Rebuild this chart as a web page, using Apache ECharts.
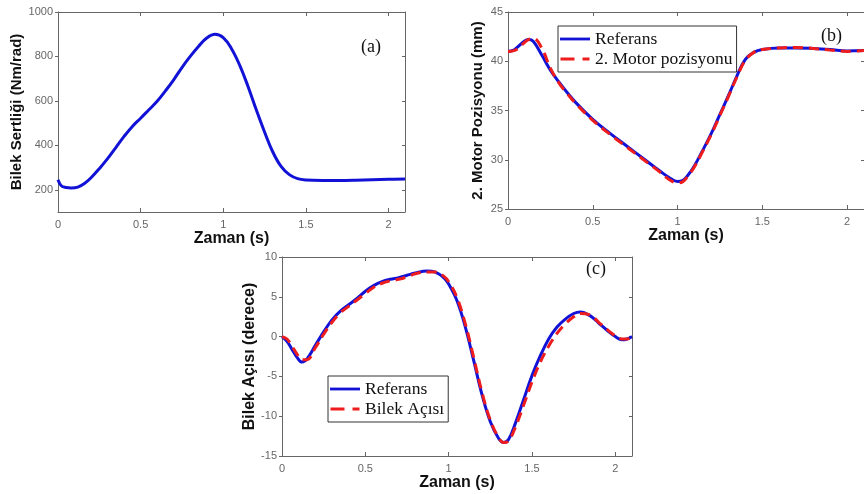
<!DOCTYPE html>
<html>
<head>
  <meta charset="utf-8">
</head>
<body style="margin: 0; background: #fff">
  <div id="container" style="width: 864px; height: 494px"></div>
  <script src="https://cdn.jsdelivr.net/npm/echarts@6/dist/echarts.min.js"></script>
  <script>
    // (a) wrist stiffness
    var tA = [0, 0.02, 0.05, 0.08, 0.12, 0.16, 0.2, 0.25, 0.3, 0.35, 0.4, 0.45, 0.5, 0.55, 0.6, 0.65, 0.7, 0.75, 0.8, 0.85, 0.9, 0.95, 1.0, 1.05, 1.1, 1.15, 1.2, 1.25, 1.3, 1.35, 1.4, 1.45, 1.5, 1.6, 1.7, 1.8, 1.9, 2.0, 2.1];
    var bilekSertligi = [245, 218, 210, 208, 212, 228, 254, 295, 340, 390, 440, 485, 522, 560, 598, 645, 695, 750, 800, 845, 883, 900, 885, 835, 760, 665, 560, 460, 370, 305, 268, 250, 244, 242, 242, 243, 245, 247, 248];

    // (b) motor 2 position
    var tB = [0, 0.03, 0.06, 0.09, 0.12, 0.15, 0.2, 0.25, 0.3, 0.35, 0.4, 0.5, 0.6, 0.7, 0.8, 0.9, 0.95, 1.0, 1.03, 1.06, 1.1, 1.15, 1.2, 1.25, 1.3, 1.35, 1.4, 1.45, 1.5, 1.6, 1.7, 1.8, 1.9, 2.0, 2.1];
    var referansB = [41.0, 41.1, 41.5, 41.95, 42.2, 42.0, 40.6, 39.1, 37.9, 36.8, 35.8, 34.1, 32.7, 31.4, 30.1, 28.8, 28.2, 27.8, 27.9, 28.4, 29.4, 31.0, 32.7, 34.6, 36.5, 38.5, 40.2, 40.9, 41.2, 41.35, 41.35, 41.3, 41.2, 41.05, 41.1];
    var motorPozisyonu = [41.0, 41.05, 41.3, 41.8, 42.2, 42.3, 41.3, 39.3, 37.8, 36.7, 35.7, 34.0, 32.6, 31.3, 30.0, 28.7, 28.0, 27.65, 27.75, 28.3, 29.3, 30.9, 32.6, 34.5, 36.4, 38.4, 40.1, 40.9, 41.2, 41.35, 41.4, 41.3, 41.15, 41.0, 41.1];

    // (c) wrist angle
    var tC = [0, 0.03, 0.06, 0.09, 0.12, 0.15, 0.2, 0.25, 0.3, 0.35, 0.4, 0.45, 0.5, 0.55, 0.6, 0.65, 0.7, 0.75, 0.8, 0.87, 0.92, 0.97, 1.0, 1.05, 1.1, 1.15, 1.2, 1.25, 1.3, 1.33, 1.36, 1.4, 1.45, 1.5, 1.55, 1.6, 1.65, 1.7, 1.75, 1.79, 1.85, 1.9, 1.95, 2.0, 2.04, 2.07, 2.1];
    var referansC = [0, -0.6, -1.6, -2.6, -3.2, -2.8, -1.1, 0.6, 2.1, 3.2, 4.0, 4.8, 5.7, 6.4, 6.9, 7.2, 7.4, 7.7, 8.0, 8.25, 8.1, 7.4, 6.6, 4.5, 1.2, -3.0, -7.3, -10.7, -12.8, -13.3, -12.9, -10.9, -7.9, -4.9, -2.4, -0.3, 1.2, 2.2, 2.9, 3.1, 2.6, 1.7, 0.8, 0.0, -0.4, -0.3, 0.0];
    var bilekAcisi = [0, -0.3, -1.2, -2.2, -2.9, -2.9, -1.4, 0.3, 1.8, 3.0, 3.8, 4.6, 5.4, 6.2, 6.7, 7.0, 7.2, 7.5, 7.9, 8.1, 8.1, 7.6, 6.9, 4.9, 1.6, -2.6, -7.0, -10.5, -12.7, -13.3, -13.1, -11.4, -8.6, -5.7, -3.2, -1.2, 0.4, 1.6, 2.5, 2.9, 2.7, 1.8, 0.9, 0.1, -0.3, -0.3, 0.0];

    var yTicksA = [200, 400, 600, 800, 1000];

    function pairs(xs, ys) {
      return xs.map(function (x, i) { return [x, ys[i]]; });
    }

    var axisColor = '#666';
    var labelStyle = { fontFamily: 'Liberation Sans', fontSize: 11, color: '#666', formatter: function (v) { return String(v); } };
    var nameStyle = { fontFamily: 'Liberation Sans', fontWeight: 'bold', fontSize: 16, color: '#111' };

    function xAxes(gi) {
      var base = {
        type: 'value', gridIndex: gi, min: 0, max: 2.1, interval: 0.5,
        axisLine: { onZero: false, lineStyle: { color: axisColor } },
        axisTick: { inside: true, length: 4, lineStyle: { color: axisColor } },
        splitLine: { show: false }
      };
      return [Object.assign({}, base, {
        position: 'bottom',
        name: 'Zaman (s)', nameLocation: 'middle', nameGap: 17, nameTextStyle: nameStyle,
        axisLabel: Object.assign({ margin: 7, showMaxLabel: false }, labelStyle)
      }), Object.assign({}, base, {
        position: 'top', axisLabel: { show: false }
      })];
    }

    function yAxes(gi, min, max, interval, name, gap, size) {
      var base = {
        type: 'value', gridIndex: gi, min: min, max: max, interval: interval,
        axisLine: { show: true, onZero: false, lineStyle: { color: axisColor } },
        axisTick: { show: true, length: 3, lineStyle: { color: axisColor } },
        splitLine: { show: false }
      };
      if (gi === 0) {
        // ticks only at 200..1000 while the axis starts at 100
        base.axisTick = Object.assign({}, base.axisTick, { customValues: yTicksA });
      }
      var label = Object.assign({ margin: 5 }, labelStyle);
      if (gi === 0) label.customValues = yTicksA;
      return [Object.assign({}, base, {
        position: 'left',
        name: name, nameLocation: 'middle', nameGap: gap,
        nameTextStyle: Object.assign({}, nameStyle, { fontSize: size }),
        axisTick: Object.assign({}, base.axisTick, { inside: false }),
        axisLabel: label
      }), Object.assign({}, base, {
        position: 'right',
        axisTick: Object.assign({}, base.axisTick, { inside: true }),
        axisLabel: { show: false }
      })];
    }

    var blue = { color: '#1212d6', width: 3 };
    var red = { color: '#ee1c1c', width: 3, type: [10, 6] };

    function line(name, xi, data, style) {
      return {
        name: name, type: 'line', xAxisIndex: xi, yAxisIndex: xi,
        data: data, smooth: 0.4, symbol: 'none', color: style.color,
        lineStyle: style, animation: false
      };
    }

    var solidIcon = 'path://M0 0H32V3H0Z';
    var dashedIcon = 'path://M3 0H17V3H3Z M25 0H32V3H25Z';

    var legendText = { fontFamily: 'Liberation Serif', fontSize: 17.5, color: '#111', lineHeight: 18 };
    var legendBase = {
      orient: 'vertical',
      itemWidth: 30, itemHeight: 3, itemGap: 2, padding: [4, 4, 4, 2],
      borderColor: '#333', borderWidth: 1, backgroundColor: '#fff', borderRadius: 0,
      textStyle: legendText, selectedMode: false
    };

    var panelFont = { fontFamily: 'Liberation Serif', fontSize: 18, fontWeight: 'normal', color: '#111' };

    var option = {
      animation: false,
      backgroundColor: '#fff',
      title: [
        { text: '(a)', left: 356, top: 33, textStyle: panelFont },
        { text: '(b)', left: 816, top: 22, textStyle: panelFont },
        { text: '(c)', left: 581, top: 255, textStyle: panelFont }
      ],
      grid: [
        { left: 58, top: 12, width: 347, height: 200 },
        { left: 508, top: 12, width: 357, height: 197 },
        { left: 282, top: 257, width: 350, height: 199 }
      ],
      xAxis: xAxes(0).concat(xAxes(1), xAxes(2)),
      yAxis: yAxes(0, 100, 1000, 100, 'Bilek Sertliği (Nm/rad)', 31, 15)
        .concat(yAxes(1, 25, 45, 5, '2. Motor Pozisyonu (mm)', 23, 15),
                yAxes(2, -15, 10, 5, 'Bilek Açısı (derece)', 19, 16)),
      legend: [
        Object.assign({
          data: [{ name: 'Referans', icon: solidIcon }, { name: '2. Motor pozisyonu', icon: dashedIcon }],
          left: 558, top: 26
        }, legendBase),
        Object.assign({
          data: [{ name: 'Referans', icon: solidIcon }, { name: 'Bilek Açısı', icon: dashedIcon }],
          left: 328, top: 376
        }, legendBase)
      ],
      series: [
        line('Bilek Sertliği', 0, pairs(tA, bilekSertligi), blue),
        line('Referans', 2, pairs(tB, referansB), blue),
        line('2. Motor pozisyonu', 2, pairs(tB, motorPozisyonu), red),
        line('Referans', 4, pairs(tC, referansC), blue),
        line('Bilek Açısı', 4, pairs(tC, bilekAcisi), red)
      ]
    };

    var chart = echarts.init(document.getElementById('container'), null, { renderer: 'canvas' });
    chart.setOption(option);
  </script>
</body>
</html>
